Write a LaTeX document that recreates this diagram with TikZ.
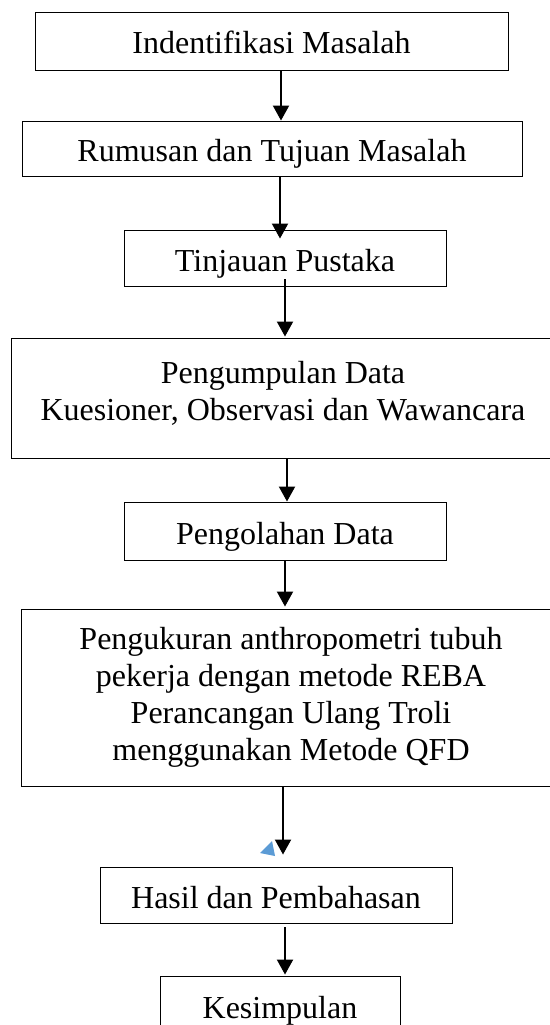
\documentclass[tikz,border=0pt]{standalone}
\usepackage{fontspec}
\setmainfont{Liberation Serif}
\usetikzlibrary{arrows.meta}
\definecolor{tri}{HTML}{5B9BD5}
\begin{document}
\begin{tikzpicture}[x=1pt,y=-1pt,
  txt/.style={inner sep=0pt, font=\fontsize{32}{37}\selectfont, align=center},
  box/.style={txt, draw, line width=0.9pt},
  onebox/.style={box, text height=28pt, text depth=2pt},
  arr/.style={line width=2pt, -{Triangle[length=15pt,width=16pt]}}]
\useasboundingbox[fill=white] (0,0) rectangle (549,1025);
\node[onebox, minimum width=473pt, minimum height=58pt] (b1) at (271.5,41) {Indentifikasi Masalah};
\node[onebox, minimum width=500pt, minimum height=55pt] (b2) at (272,148.5) {Rumusan dan Tujuan Masalah};
\node[onebox, minimum width=322pt, minimum height=56pt] (b3) at (285,258) {Tinjauan Pustaka};
\node[box, minimum width=544pt, minimum height=120pt] (b4) at (283,398) {};
\node[txt] (b4t) at (283,393) {Pengumpulan Data\\Kuesioner, Observasi dan Wawancara};
\node[onebox, minimum width=322pt, minimum height=58pt] (b5) at (285,531) {Pengolahan Data};
\node[box, minimum width=540pt, minimum height=177pt] (b6) at (291,697.5) {Pengukuran anthropometri tubuh\\pekerja dengan metode REBA\\Perancangan Ulang Troli\\menggunakan Metode QFD};
\node[onebox, minimum width=352pt, minimum height=56pt] (b7) at (276,895) {Hasil dan Pembahasan};
\node[onebox, minimum width=240pt, minimum height=58pt] (b8) at (280,1005) {Kesimpulan};
\draw[arr] ([xshift=9.5pt]b1.south) -- ([xshift=9pt]b2.north);
\draw[arr] ([xshift=8pt]b2.south) -- ([xshift=-5pt,yshift=-9pt]b3.north);
\draw[arr] ([yshift=7pt]b3.south) -- ([xshift=2pt,yshift=1pt]b4.north);
\draw[arr] ([xshift=4pt]b4.south) -- ([xshift=2pt]b5.north);
\draw[arr] (b5.south) -- ([xshift=-6pt,yshift=2pt]b6.north);
\draw[arr] ([xshift=-8pt,yshift=-1pt]b6.south) -- ([xshift=7pt,yshift=12pt]b7.north);
\draw[arr] ([xshift=9pt,yshift=-4pt]b7.south) -- ([xshift=5pt,yshift=1pt]b8.north);
\fill[tri] (260,853) -- (272,841) -- (275,856) -- cycle;
\end{tikzpicture}
\end{document}
